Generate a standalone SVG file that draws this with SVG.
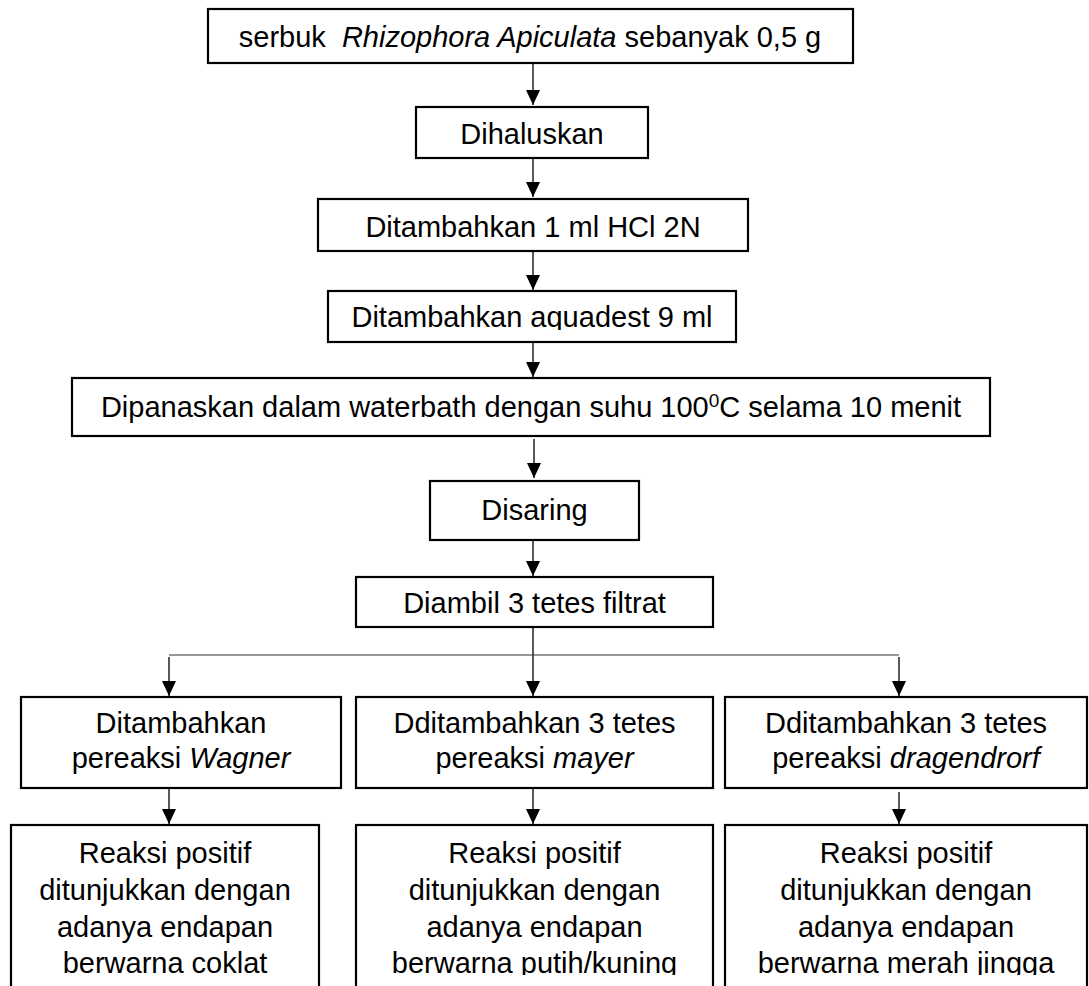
<svg xmlns="http://www.w3.org/2000/svg" width="1089" height="986" viewBox="0 0 1089 986">
<style>
.box{fill:#fff;stroke:#000;stroke-width:2.2}
.t{font-family:"Liberation Sans",Arial,sans-serif;font-size:29px;fill:#000;text-anchor:middle}
.i{font-style:italic}
.c{fill:none;stroke:#000;stroke-width:1.3}
.h{fill:none;stroke:#333;stroke-width:1.2}
</style>
<defs>
<marker id="ah" viewBox="0 0 15 14" refX="15" refY="7" markerWidth="15" markerHeight="14" orient="auto" markerUnits="userSpaceOnUse">
<path d="M0,0 L15,7 L0,14 z" fill="#000"/>
</marker>
<clipPath id="clipAq"><rect x="328" y="291" width="408" height="39"/></clipPath>
<clipPath id="clipBot"><rect x="0" y="825" width="1089" height="150"/></clipPath>
</defs>

<g id="connectors">
<line class="c" x1="533" y1="63" x2="533" y2="105" marker-end="url(#ah)"/>
<line class="c" x1="533" y1="158" x2="533" y2="197" marker-end="url(#ah)"/>
<line class="c" x1="533" y1="251" x2="533" y2="290" marker-end="url(#ah)"/>
<line class="c" x1="533" y1="342" x2="533" y2="377" marker-end="url(#ah)"/>
<line class="c" x1="534" y1="439" x2="534" y2="478" marker-end="url(#ah)"/>
<line class="c" x1="533" y1="540" x2="533" y2="576" marker-end="url(#ah)"/>
<line class="c" x1="533" y1="627" x2="533" y2="696" marker-end="url(#ah)"/>
<line class="h" x1="169" y1="655" x2="899" y2="655"/>
<line class="c" x1="169" y1="657" x2="169" y2="696" marker-end="url(#ah)"/>
<line class="c" x1="899" y1="657" x2="899" y2="696" marker-end="url(#ah)"/>
<line class="c" x1="169" y1="788" x2="169" y2="824" marker-end="url(#ah)"/>
<line class="c" x1="533" y1="788" x2="533" y2="824" marker-end="url(#ah)"/>
<line class="c" x1="899" y1="792" x2="899" y2="824" marker-end="url(#ah)"/>
</g>

<g id="n1">
<rect class="box" x="208" y="9" width="645" height="54"/>
<text class="t" x="530" y="47">serbuk <tspan class="i" dx="8">Rhizophora Apiculata</tspan> sebanyak 0,5 g</text>
</g>
<g id="n2">
<rect class="box" x="416" y="107" width="232" height="51"/>
<text class="t" x="532" y="144">Dihaluskan</text>
</g>
<g id="n3">
<rect class="box" x="318" y="199" width="430" height="52"/>
<text class="t" x="533" y="237">Ditambahkan 1 ml HCl 2N</text>
</g>
<g id="n4">
<rect class="box" x="328" y="291" width="408" height="51"/>
<text class="t" x="532" y="327" clip-path="url(#clipAq)">Ditambahkan aquadest 9 ml</text>
</g>
<g id="n5">
<rect class="box" x="72" y="378" width="918" height="58"/>
<text class="t" x="531" y="417">Dipanaskan dalam waterbath dengan suhu 100<tspan font-size="19" dy="-10">0</tspan><tspan dy="10">C selama 10 menit</tspan></text>
</g>
<g id="n6">
<rect class="box" x="430" y="481" width="209" height="59"/>
<text class="t" x="534.5" y="520">Disaring</text>
</g>
<g id="n7">
<rect class="box" x="356" y="577" width="357" height="50"/>
<text class="t" x="534.5" y="613">Diambil 3 tetes filtrat</text>
</g>
<g id="n8">
<rect class="box" x="21" y="697" width="320" height="91"/>
<text class="t" x="181" y="733">Ditambahkan</text>
<text class="t" x="181" y="768">pereaksi <tspan class="i">Wagner</tspan></text>
</g>
<g id="n9">
<rect class="box" x="356" y="697" width="357" height="91"/>
<text class="t" x="534.5" y="733">Dditambahkan 3 tetes</text>
<text class="t" x="534.5" y="768">pereaksi <tspan class="i">mayer</tspan></text>
</g>
<g id="n10">
<rect class="box" x="725" y="697" width="362" height="91"/>
<text class="t" x="906" y="733">Dditambahkan 3 tetes</text>
<text class="t" x="906" y="768">pereaksi <tspan class="i">dragendrorf</tspan></text>
</g>
<g id="n11">
<rect class="box" x="11" y="825" width="308" height="200"/>
<g clip-path="url(#clipBot)">
<text class="t" x="165" y="863">Reaksi positif</text>
<text class="t" x="165" y="900">ditunjukkan dengan</text>
<text class="t" x="165" y="937">adanya endapan</text>
<text class="t" x="165" y="973">berwarna coklat</text>
</g>
</g>
<g id="n12">
<rect class="box" x="356" y="825" width="357" height="200"/>
<g clip-path="url(#clipBot)">
<text class="t" x="534.5" y="863">Reaksi positif</text>
<text class="t" x="534.5" y="900">ditunjukkan dengan</text>
<text class="t" x="534.5" y="937">adanya endapan</text>
<text class="t" x="534.5" y="973">berwarna putih/kuning</text>
</g>
</g>
<g id="n13">
<rect class="box" x="725" y="825" width="362" height="200"/>
<g clip-path="url(#clipBot)">
<text class="t" x="906" y="863">Reaksi positif</text>
<text class="t" x="906" y="900">ditunjukkan dengan</text>
<text class="t" x="906" y="937">adanya endapan</text>
<text class="t" x="906" y="973">berwarna merah jingga</text>
</g>
</g>
</svg>
